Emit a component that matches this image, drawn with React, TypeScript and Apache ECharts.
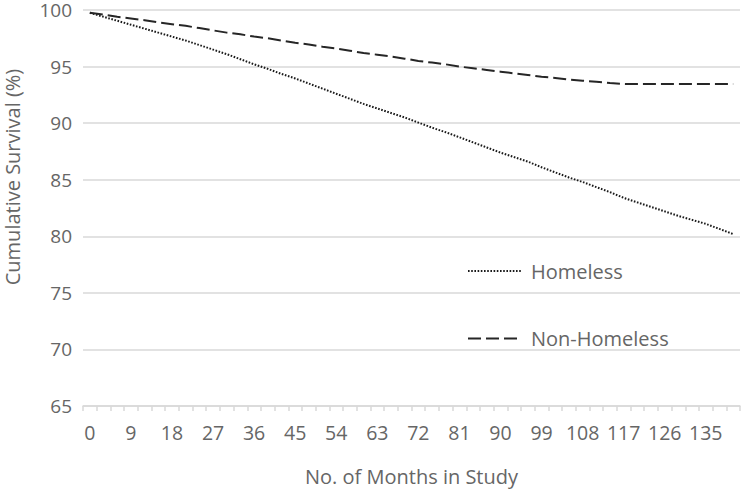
import React, { useEffect, useRef } from "react";
import * as echarts from "echarts";

const months: string[] = [
  "0", "3", "6", "9", "12", "15", "18", "21", "24", "27", "30", "33",
  "36", "39", "42", "45", "48", "51", "54", "57", "60", "63", "66", "69",
  "72", "75", "78", "81", "84", "87", "90", "93", "96", "99", "102", "105",
  "108", "111", "114", "117", "120", "123", "126", "129", "132", "135", "138", "141",
];

const homeless: number[] = [
  99.75, 99.4, 99.05, 98.7, 98.35, 98.0, 97.65, 97.3, 96.9, 96.5, 96.1, 95.65,
  95.2, 94.8, 94.35, 93.95, 93.5, 93.05, 92.6, 92.15, 91.7, 91.3, 90.9, 90.5,
  90.05, 89.6, 89.2, 88.75, 88.3, 87.85, 87.4, 87.0, 86.6, 86.1, 85.65, 85.2,
  84.8, 84.35, 83.9, 83.4, 83.0, 82.6, 82.2, 81.8, 81.45, 81.1, 80.65, 80.2,
];

const nonHomeless: number[] = [
  99.75, 99.6, 99.4, 99.25, 99.1, 98.9, 98.75, 98.6, 98.4, 98.2, 98.0, 97.85,
  97.65, 97.5, 97.3, 97.1, 96.95, 96.75, 96.6, 96.4, 96.2, 96.05, 95.9, 95.7,
  95.5, 95.35, 95.2, 95.0, 94.85, 94.7, 94.55, 94.4, 94.25, 94.1, 94.0, 93.85,
  93.75, 93.65, 93.55, 93.47, 93.45, 93.45, 93.45, 93.45, 93.45, 93.45, 93.45, 93.45,
];

const FONT = "'Open Sans', sans-serif";
const TEXT = "#666666";
const GRID = "#d9d9d9";

export default function App() {
  const ref = useRef<HTMLDivElement>(null);

  useEffect(() => {
    if (!ref.current) return;
    const chart = echarts.init(ref.current, null, { renderer: "svg" });
    chart.setOption({
      animation: false,
      backgroundColor: "#ffffff",
      textStyle: { fontFamily: FONT },
      grid: { left: 83, right: 2, top: 10, bottom: 83, containLabel: false },
      legend: {
        orient: "vertical",
        left: 462,
        top: 256,
        itemWidth: 53,
        itemHeight: 14,
        itemGap: 47.5,
        data: ["Homeless", "Non-Homeless"],
        itemStyle: { opacity: 0 },
        textStyle: {
          fontFamily: FONT,
          fontSize: 20,
          color: TEXT,
          lineHeight: 20,
          padding: [0, 0, 0, 5],
        },
      },
      xAxis: {
        type: "category",
        data: months,
        boundaryGap: true,
        name: "No. of Months in Study",
        nameLocation: "middle",
        nameGap: 60,
        nameTextStyle: { fontFamily: FONT, fontSize: 20, color: TEXT },
        axisLine: { show: true, lineStyle: { color: GRID, width: 1.5 } },
        axisTick: {
          show: true,
          interval: 0,
          length: 5,
          lineStyle: { color: GRID, width: 1.5 },
        },
        axisLabel: {
          interval: 2,
          margin: 16,
          fontFamily: FONT,
          fontSize: 19.5,
          color: TEXT,
        },
        splitLine: { show: false },
      },
      yAxis: {
        type: "value",
        min: 65,
        max: 100,
        interval: 5,
        axisLine: { show: false },
        axisTick: { show: false },
        axisLabel: {
          margin: 11,
          fontFamily: FONT,
          fontSize: 19,
          lineHeight: 18,
          color: TEXT,
        },
        splitLine: { show: true, lineStyle: { color: GRID, width: 1.5 } },
      },
      graphic: [
        {
          type: "text",
          x: 12,
          y: 177,
          rotation: Math.PI / 2,
          style: {
            text: "Cumulative Survival (%)",
            fontFamily: FONT,
            fontSize: 20,
            lineHeight: 20,
            fill: TEXT,
            align: "center",
            verticalAlign: "middle",
          },
        },
      ],
      series: [
        {
          name: "Homeless",
          type: "line",
          data: homeless,
          symbol: "none",
          lineStyle: { color: "#1a1a1a", width: 2, type: [1.6, 1.6], cap: "butt" },
          itemStyle: { color: "#1a1a1a" },
        },
        {
          name: "Non-Homeless",
          type: "line",
          data: nonHomeless,
          symbol: "none",
          lineStyle: { color: "#262626", width: 2, type: [13, 5], cap: "butt" },
          itemStyle: { color: "#262626" },
        },
      ],
    });
    return () => chart.dispose();
  }, []);

  return <div ref={ref} style={{ width: 742, height: 491, position: "absolute", left: 0, top: 0 }} />;
}
